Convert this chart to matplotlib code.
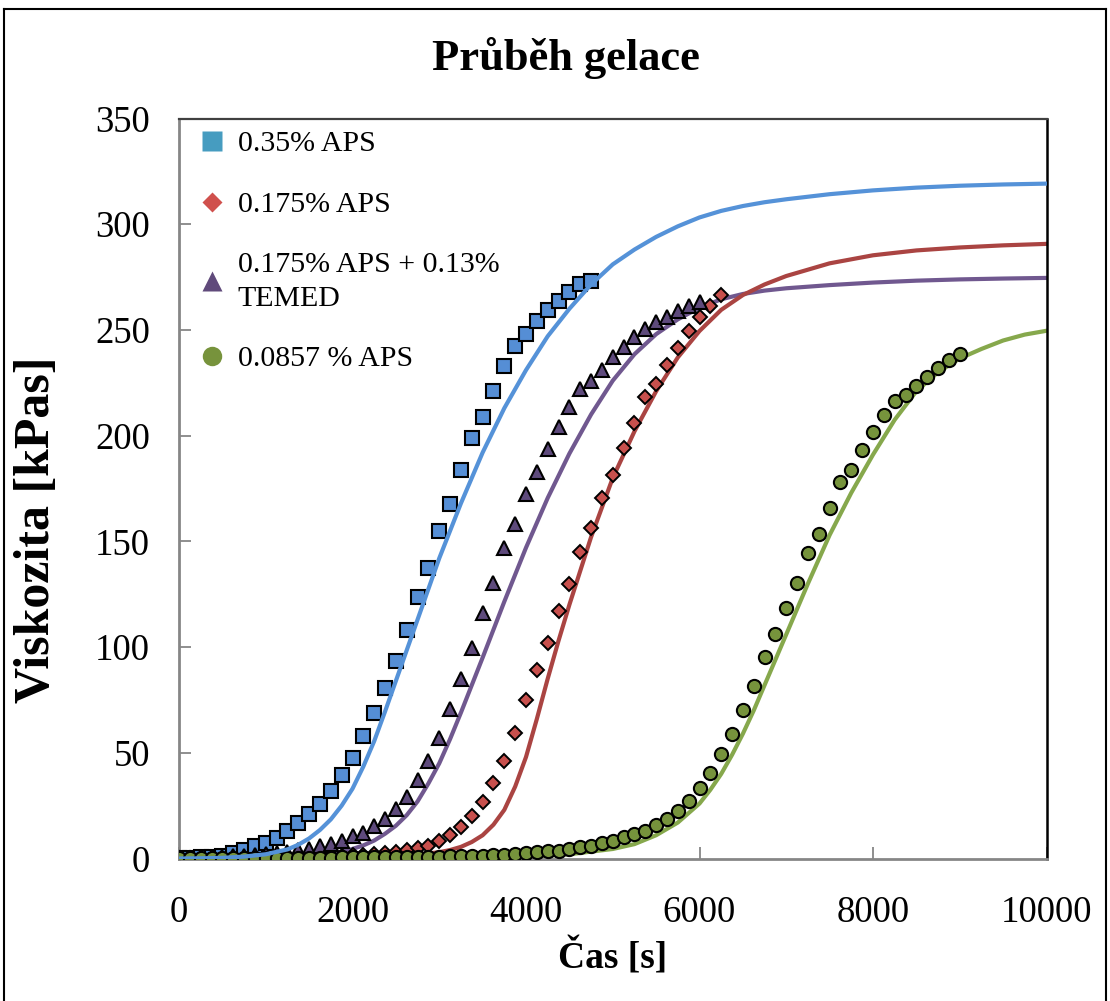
import matplotlib
matplotlib.use("Agg")
import matplotlib.pyplot as plt
from matplotlib.lines import Line2D

plt.rcParams['font.family'] = ['Liberation Serif', 'DejaVu Serif']

# --- measured points (time step 125 s) ---
blue_x = [0, 125, 250, 375, 500, 625, 750, 875, 1000, 1125, 1250, 1375, 1500, 1625,
          1750, 1875, 2000, 2125, 2250, 2375, 2500, 2625, 2750, 2875, 3000, 3125,
          3250, 3375, 3500, 3625, 3750, 3875, 4000, 4125, 4250, 4375, 4500, 4625, 4750]
blue_y = [0.3, 0.4, 0.6, 0.9, 1.4, 2.6, 3.9, 5.8, 7.4, 9.8, 12.9, 16.9, 21.1, 26.0,
          31.8, 39.3, 47.6, 57.9, 68.9, 80.8, 93.5, 107.9, 123.9, 137.6, 155.0, 167.6,
          183.7, 199.0, 209.0, 221.2, 233.0, 242.5, 248.0, 254.4, 259.4, 263.8, 268.0, 271.7, 273.3]

red_x = [0, 125, 250, 375, 500, 625, 750, 875, 1000, 1125, 1250, 1375, 1500, 1625,
         1750, 1875, 2000, 2125, 2250, 2375, 2500, 2625, 2750, 2875, 3000, 3125,
         3250, 3375, 3500, 3625, 3750, 3875, 4000, 4125, 4250, 4375, 4500, 4625, 4750,
         4875, 5000, 5125, 5250, 5375, 5500, 5625, 5750, 5875, 6000, 6125, 6250]
red_y = [0.2, 0.2, 0.2, 0.3, 0.3, 0.3, 0.4, 0.4, 0.5, 0.5, 0.6, 0.7, 0.8, 0.9,
         1.1, 1.3, 1.5, 1.8, 2.1, 2.5, 3.0, 3.9, 5.0, 5.8, 8.1, 11.3,
         15.0, 20.0, 26.6, 35.5, 46.0, 59.5, 75.0, 89.1, 101.8, 117.0, 129.7, 145.0, 156.5,
         170.7, 181.4, 194.1, 206.2, 218.1, 224.4, 233.5, 241.4, 249.6, 256.0, 261.5, 266.7]

purple_x = [0, 125, 250, 375, 500, 625, 750, 875, 1000, 1125, 1250, 1375, 1500, 1625,
            1750, 1875, 2000, 2125, 2250, 2375, 2500, 2625, 2750, 2875, 3000, 3125,
            3250, 3375, 3500, 3625, 3750, 3875, 4000, 4125, 4250, 4375, 4500, 4625, 4750,
            4875, 5000, 5125, 5250, 5375, 5500, 5625, 5750, 5875, 6000]
purple_y = [0.3, 0.4, 0.5, 0.6, 0.8, 1.0, 1.3, 1.6, 2.0, 2.6, 3.2, 3.9, 4.5, 5.8,
            6.9, 8.1, 10.5, 12.1, 15.2, 18.8, 23.2, 29.0, 36.9, 46.0, 57.1, 70.5,
            84.7, 99.7, 116.3, 130.5, 147.0, 158.1, 172.3, 182.9, 193.6, 203.9, 213.6, 222.0, 225.8,
            231.2, 237.0, 242.0, 246.5, 250.4, 253.6, 256.3, 259.0, 261.5, 263.0]

green_x = [0, 125, 250, 375, 500, 625, 750, 875, 1000, 1125, 1250, 1375, 1500, 1625,
           1750, 1875, 2000, 2125, 2250, 2375, 2500, 2625, 2750, 2875, 3000, 3125,
           3250, 3375, 3500, 3625, 3750, 3875, 4000, 4125, 4250, 4375, 4500, 4625, 4750,
           4875, 5000, 5125, 5250, 5375, 5500, 5625, 5750, 5875, 6000, 6125, 6250, 6375,
           6500, 6625, 6750, 6875, 7000, 7125, 7250, 7375, 7500, 7625, 7750, 7875, 8000,
           8125, 8250, 8375, 8500, 8625, 8750, 8875, 9000]
green_y = [0.2, 0.2, 0.2, 0.2, 0.2, 0.2, 0.3, 0.3, 0.3, 0.3, 0.3, 0.3, 0.4, 0.4,
           0.4, 0.5, 0.5, 0.5, 0.6, 0.6, 0.7, 0.7, 0.8, 0.9, 0.9, 1.0,
           1.1, 1.3, 1.4, 1.5, 1.8, 2.3, 2.7, 2.9, 3.4, 3.7, 4.5, 5.3, 6.1,
           7.5, 8.3, 10.0, 11.5, 13.0, 15.7, 18.8, 22.5, 27.3, 33.4, 40.5, 49.2, 59.1,
           70.2, 81.5, 95.3, 106.3, 118.7, 130.5, 144.7, 153.4, 165.7, 178.1, 183.7, 193.3, 201.8,
           209.7, 216.5, 219.0, 223.6, 227.8, 231.8, 235.9, 238.6]

# --- fitted curves ---
blue_fit_x = [0, 250, 500, 750, 1000, 1250, 1375, 1500, 1625, 1750, 1875, 2000, 2125,
              2250, 2375, 2500, 2750, 3000, 3250, 3500, 3750, 4000, 4250, 4500, 4750,
              5000, 5250, 5500, 5750, 6000, 6250, 6500, 6750, 7000, 7500, 8000, 8500,
              9000, 9500, 10000]
blue_fit_y = [0.0, 0.1, 0.3, 0.9, 2.0, 4.3, 6.5, 9.5, 13.5, 18.5, 25.0, 33.0, 43.5,
              55.5, 69.5, 84.0, 113.0, 142.0, 168.0, 192.0, 213.0, 231.0, 247.0, 260.0, 271.5,
              281.0, 288.0, 294.0, 299.0, 303.2, 306.3, 308.6, 310.4, 311.8, 314.2, 316.0, 317.3,
              318.2, 318.8, 319.2]

red_fit_x = [0, 500, 1000, 1500, 2000, 2250, 2500, 2750, 3000, 3125, 3250, 3375, 3500,
             3625, 3750, 3875, 4000, 4125, 4250, 4375, 4500, 4750, 5000, 5250, 5500,
             5750, 6000, 6250, 6500, 6750, 7000, 7500, 8000, 8500, 9000, 9500, 10000]
red_fit_y = [0.0, 0.0, 0.1, 0.2, 0.4, 0.6, 1.0, 1.8, 3.0, 4.0, 5.5, 7.8, 11.0,
             16.0, 23.0, 34.0, 48.0, 66.0, 85.0, 103.0, 120.0, 152.0, 180.0, 202.0, 221.0,
             237.0, 249.5, 259.5, 266.5, 271.5, 275.5, 281.5, 285.3, 287.6, 289.0, 290.0, 290.7]

purple_fit_x = [0, 500, 1000, 1500, 1750, 1875, 2000, 2125, 2250, 2375, 2500, 2625, 2750,
                2875, 3000, 3125, 3250, 3500, 3750, 4000, 4250, 4500, 4750, 5000, 5250,
                5500, 5750, 6000, 6250, 6500, 6750, 7000, 7500, 8000, 8500, 9000, 9500, 10000]
purple_fit_y = [0.0, 0.1, 0.4, 1.1, 2.2, 3.2, 4.5, 6.2, 8.5, 11.7, 15.5, 20.5, 27.0,
                35.5, 45.0, 56.5, 69.0, 95.0, 121.5, 147.0, 170.5, 191.5, 210.0, 226.0, 238.5,
                248.0, 255.0, 260.5, 264.5, 267.0, 268.6, 269.7, 271.2, 272.4, 273.3, 273.9, 274.3, 274.6]

green_fit_x = [0, 1000, 2000, 3000, 3500, 4000, 4500, 5000, 5250, 5500, 5750, 6000, 6125,
               6250, 6375, 6500, 6625, 6750, 7000, 7250, 7500, 7750, 8000, 8250, 8500,
               8750, 9000, 9250, 9500, 9750, 10000]
green_fit_y = [0.0, 0.0, 0.0, 0.1, 0.3, 0.8, 2.0, 4.5, 6.8, 11.0, 17.0, 26.0, 32.5,
               40.0, 49.0, 59.0, 70.0, 82.0, 106.0, 130.0, 153.0, 173.0, 191.0, 207.5, 221.0,
               230.0, 236.5, 241.0, 245.0, 247.8, 249.6]

labels = ["0.35% APS", "0.175% APS", "0.175% APS + 0.13%\nTEMED", "0.0857 % APS"]

fig = plt.figure(figsize=(11.10, 10.01), dpi=100)
ax = fig.add_axes([179 / 1110, 1 - 858.5 / 1001, 867.5 / 1110, 740 / 1001])

ax.plot(green_fit_x, green_fit_y, color="#86A84C", lw=3.0, zorder=1)
ax.plot(purple_fit_x, purple_fit_y, color="#70588F", lw=3.0, zorder=2)
ax.plot(red_fit_x, red_fit_y, color="#AA4442", lw=3.0, zorder=2)

ax.plot(blue_x, blue_y, ls="none", marker="s", ms=9.5, mfc="#558ED5", mec="black", mew=1.5, zorder=3)
ax.plot(red_x, red_y, ls="none", marker="D", ms=7.5, mfc="#C8504D", mec="black", mew=1.4, zorder=3)
ax.plot(purple_x, purple_y, ls="none", marker="^", ms=10.5, mfc="#5E4A7C", mec="black", mew=1.5, zorder=3)
ax.plot(green_x, green_y, ls="none", marker="o", ms=9.5, mfc="#76933C", mec="black", mew=1.5, zorder=4)

ax.plot(blue_fit_x, blue_fit_y, color="#5592D8", lw=3.0, zorder=5)

ax.set_xlim(0, 10000)
ax.set_ylim(0, 350)
ax.set_xticks([0, 2000, 4000, 6000, 8000, 10000])
ax.set_yticks([0, 50, 100, 150, 200, 250, 300, 350])
ax.tick_params(direction="in", length=8.5, width=1.3, color="#868686", labelsize=26.5)
ax.tick_params(axis="y", pad=21)
ax.tick_params(axis="x", pad=27)

for side in ["left", "bottom"]:
    ax.spines[side].set_color("#868686")
    ax.spines[side].set_linewidth(2)
ax.spines["top"].set_color("#404040")
ax.spines["top"].set_linewidth(1.6)
ax.spines["right"].set_color("black")
ax.spines["right"].set_linewidth(1.8)

ax.set_xlabel("Čas [s]", fontsize=27, fontweight="bold", labelpad=6)
ax.set_ylabel("Viskozita [kPas]", fontsize=36, fontweight="bold")
ax.yaxis.set_label_coords((60 - 179) / 867.5, (858.5 - 530) / 740)
fig.text(566 / 1110, 1 - 58 / 1001, "Průběh gelace", fontsize=32, fontweight="bold",
         ha="center", va="center")

handles = [
    Line2D([], [], ls="none", marker="s", ms=14, mfc="#469CC0", mec="none"),
    Line2D([], [], ls="none", marker="D", ms=10, mfc="#D0504D", mec="none"),
    Line2D([], [], ls="none", marker="^", ms=15, mfc="#604A7B", mec="none"),
    Line2D([], [], ls="none", marker="o", ms=14, mfc="#77933C", mec="none"),
]
leg = ax.legend(handles, labels, loc="upper left", frameon=False, fontsize=21.5,
                labelspacing=1.13, handlelength=1.4, handletextpad=0.17,
                borderpad=0.3, borderaxespad=0.1)
for t in leg.get_texts():
    t.set_linespacing(1.4)

# outer chart frame
frame = [([4 / 1110, 4 / 1110], [0, 1 - 9 / 1001]),
         ([4 / 1110, 1106 / 1110], [1 - 9 / 1001, 1 - 9 / 1001]),
         ([1106 / 1110, 1106 / 1110], [1 - 9 / 1001, 0])]
for fx, fy in frame:
    fig.add_artist(Line2D(fx, fy, transform=fig.transFigure, color="black", lw=1.5))

fig.savefig("out.png", dpi=100)
